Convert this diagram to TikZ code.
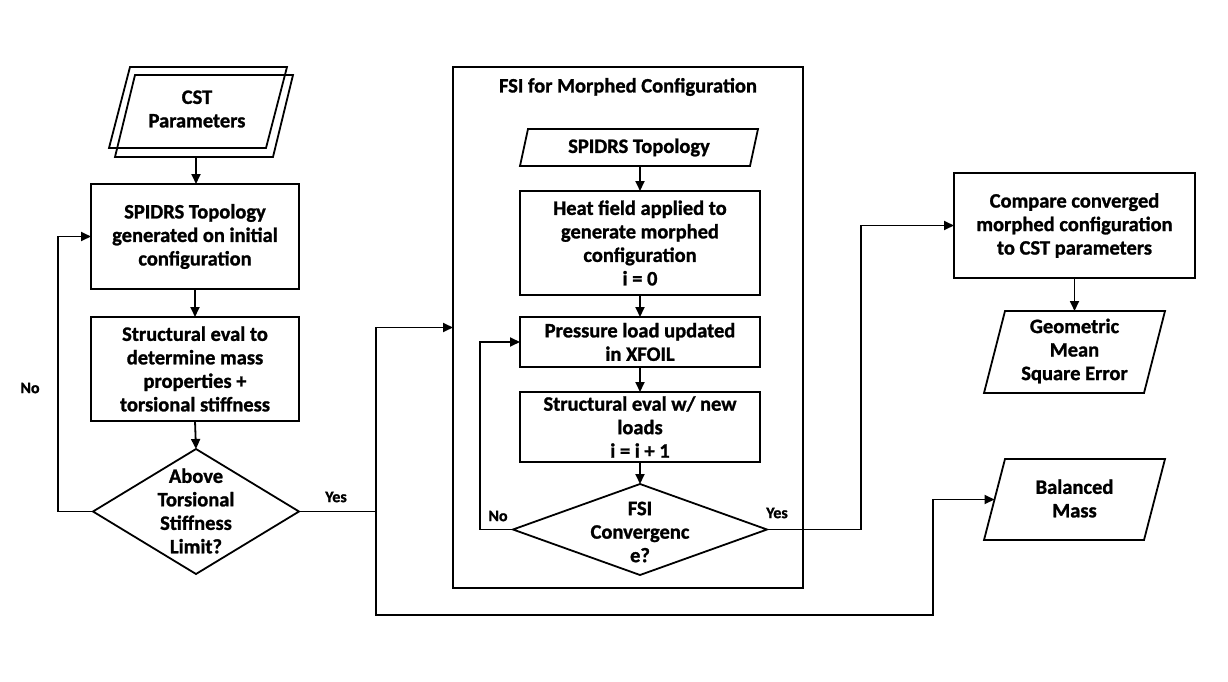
\documentclass[tikz,border=0pt]{standalone}
\usepackage{fontspec}
\setmainfont{Carlito}[BoldFeatures={FakeBold=1.2}]
\usetikzlibrary{arrows.meta,shapes.geometric,calc}
\newcommand\mainf{\bfseries\fontsize{20.5}{23.5}\selectfont}
\newcommand\lblf{\bfseries\fontsize{16}{19}\selectfont}
\newcommand\paragram[4]{\draw[shapeline] ($(#1)+(-#2+#4,-#3)$) -- ($(#1)+(#2+#4,-#3)$) -- ($(#1)+(#2-#4,#3)$) -- ($(#1)+(-#2-#4,#3)$) -- cycle;}
\begin{document}
\begin{tikzpicture}[x=1pt,y=-1pt,
  every node/.style={inner sep=0pt,outer sep=0pt,align=center,font=\mainf},
  shapeline/.style={line width=1.8pt,line join=miter},
  procbox/.style={draw,shapeline},
  decision/.style={draw,shapeline,diamond},
  wire/.style={line width=1.8pt},
  arr/.style={wire,-{Triangle[length=10pt,width=9pt]}},
  lbl/.style={font=\lblf}
]
\useasboundingbox (0,0) rectangle (1228,682);

% ---- left column ----
\coordinate (cstback) at (198,107.5);
\coordinate (cstfront) at (204,116);
\paragram{cstback}{78.5}{40.5}{10.5}
\paragram{cstfront}{79}{41}{10}
\node (cst) at (197,109) {CST\\Parameters};
\coordinate (cstbot) at (196,157);

\node[procbox,minimum width=208,minimum height=105] (box1) at (195,236.5)
  {SPIDRS Topology\\generated on initial\\configuration};
\node[procbox,minimum width=208,minimum height=104] (box2) at (195,369)
  {Structural eval to\\determine mass\\properties +\\torsional stiffness};
\node[decision,minimum width=206,minimum height=125] (d1) at (196,511.5) {};
\node (d1t) at (196,511) {Above\\Torsional\\Stiffness\\Limit?};

\draw[arr] (cstbot) -- (cstbot |- box1.north);
\draw[arr] (box1.south) -- (box2.north);
\draw[arr] (box2.south) -- (d1.north);
\draw[arr] (d1.west) -- ++(-35,0) |- (box1.west);
\node[lbl] (no1) at (30,388) {No};

% ---- FSI block ----
\node[procbox,minimum width=350,minimum height=521] (fsi) at (628,327.5) {};
\node (fsit) at (628,87) {FSI for Morphed Configuration};
\node (sp) at (639,147.5) {SPIDRS Topology};
\paragram{sp}{115}{18.5}{4}
\coordinate (spbot) at (640,166);
\node[procbox,minimum width=240,minimum height=104] (heat) at (640,243)
  {Heat field applied to\\generate morphed\\configuration\\i = 0};
\node[procbox,minimum width=240,minimum height=50] (press) at (640,342)
  {Pressure load updated\\in XFOIL};
\node[procbox,minimum width=240,minimum height=70] (str2) at (640,427)
  {Structural eval w/ new\\loads\\i = i + 1};
\node[decision,minimum width=254,minimum height=91] (d2) at (640,529.5) {};
\node (d2t) at (640,532) {FSI\\Convergenc\\e?};

\draw[arr] (spbot) -- (heat.north);
\draw[arr] (heat.south) -- (press.north);
\draw[arr] (press.south) -- (str2.north);
\draw[arr] (str2.south) -- (d2.north);
\draw[arr] (d2.west) -- ++(-33,0) |- (press.west);
\node[lbl] (no2) at (498,516) {No};
\node[lbl] (yes2) at (777,513) {Yes};

% ---- right column ----
\node[procbox,minimum width=241,minimum height=105] (cmp) at (1074.5,225.5)
  {Compare converged\\morphed configuration\\to CST parameters};
\node (geo) at (1074.5,351) {Geometric\\Mean\\Square Error};
\coordinate (geoc) at (1074.5,352);
\paragram{geoc}{80}{41}{10.5}
\coordinate (geotop) at (1074.5,311);
\node (bal) at (1074.5,498.5) {Balanced\\Mass};
\coordinate (balc) at (1074.5,499.5);
\paragram{balc}{80}{40.5}{10.5}
\coordinate (balin) at (994.5,499.5);

\draw[arr] (cmp.south) -- (geotop);
\draw[arr] (d2.east) -| ([xshift=-93pt]cmp.west) -- (cmp.west);

% ---- Yes branch from left decision ----
\coordinate (j1) at (376,511.5);
\coordinate (jb) at (933,615);
\draw[wire] (d1.east) -- (j1);
\draw[arr] (j1) |- (fsi.west);
\draw[arr] (j1) |- (jb) |- (balin);
\node[lbl] (yes1) at (336,497) {Yes};
\end{tikzpicture}
\end{document}
